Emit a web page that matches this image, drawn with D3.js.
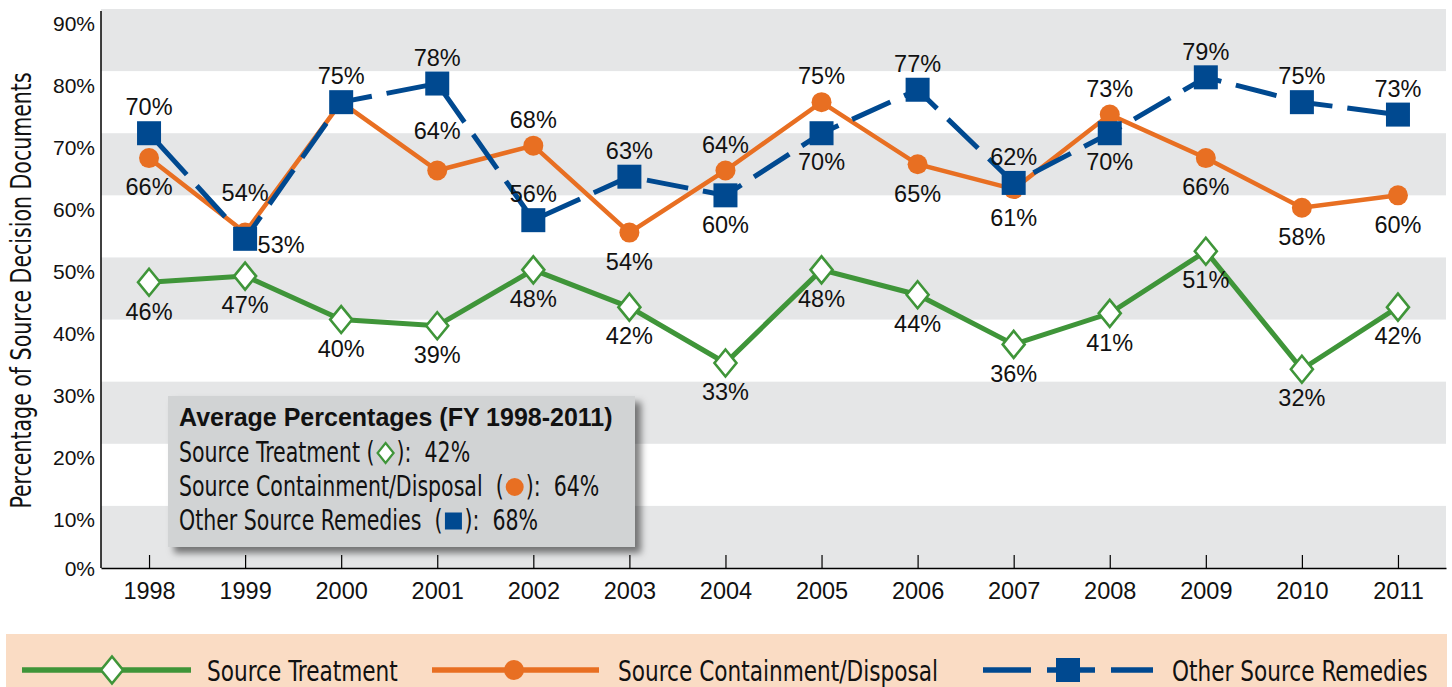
<!DOCTYPE html>
<html>
<head>
<meta charset="utf-8">
<script src="https://cdn.jsdelivr.net/npm/d3@7"></script>
<style>
  body { margin: 0; background: #fff; }
  svg text { fill: #111; }
  .narrow { font-family: "DejaVu Sans Condensed", "Liberation Sans Narrow", sans-serif; white-space: pre; }
  .num { font-family: "Liberation Sans", Arial, sans-serif; }
</style>
</head>
<body>
<div id="chart"></div>
<script>
// data
const years = ["1998", "1999", "2000", "2001", "2002", "2003", "2004", "2005", "2006", "2007", "2008", "2009", "2010", "2011"];
const treatment = [46, 47, 40, 39, 48, 42, 33, 48, 44, 36, 41, 51, 32, 42];
const containment = [66, 54, 75, 64, 68, 54, 64, 75, 65, 61, 73, 66, 58, 60];
const otherRemedies = [70, 53, 75, 78, 56, 63, 60, 70, 77, 62, 70, 79, 75, 73];
// where each value label sits: a = above, A = higher above, b = below, r = right, "" = none
const treatmentLabelPos = ["b", "b", "b", "b", "b", "b", "b", "b", "b", "b", "b", "b", "b", "b"];
const containmentLabelPos = ["b", "A", "", "A", "a", "b", "a", "a", "b", "b", "a", "b", "b", "b"];
const otherLabelPos = ["a", "r", "a", "a", "a", "a", "b", "b", "a", "a", "b", "a", "a", "a"];
const yTicks = [0, 10, 20, 30, 40, 50, 60, 70, 80, 90];
const seriesNames = ["Source Treatment", "Source Containment/Disposal", "Other Source Remedies"];
const averages = [42, 64, 68];
const avgTitle = "Average Percentages (FY 1998-2011)";
const yTitle = "Percentage of Source Decision Documents";

const w = 1452, h = 687;
const plotLeft = 101, plotRight = 1446, plotTop = 9, plotBottom = 568;
const green = "#3f9539", orange = "#e86f22", blue = "#004990";
const squeeze = 0.83;
const labelShift = { a: -26, A: -40, b: 29, r: 6 };

const svg = d3.select("#chart").append("svg")
    .attr("width", w)
    .attr("height", h);

const defs = svg.append("defs");
const shadow = defs.append("filter").attr("id", "shadow")
    .attr("x", "-5%").attr("y", "-10%").attr("width", "115%").attr("height", "130%");
shadow.append("feDropShadow")
    .attr("dx", 6).attr("dy", 6).attr("stdDeviation", 3.5)
    .attr("flood-color", "#000").attr("flood-opacity", 0.5);

// condensed text: a condensed face squeezed a little more
function narrowText(parent, str, tx, ty, size, rotate) {
    return parent.append("text")
        .attr("class", "narrow")
        .attr("transform", "translate(" + tx + "," + ty + ")" + (rotate ? " rotate(" + rotate + ")" : "") + " scale(" + squeeze + ",1)")
        .style("font-size", size + "px")
        .text(str);
}

const x = d3.scalePoint()
    .domain(years)
    .range([plotLeft, plotRight])
    .padding(0.5);

const y = d3.scaleLinear()
    .domain([0, 90])
    .range([plotBottom, plotTop]);

// grey bands
svg.append("g").selectAll("rect")
    .data(yTicks.filter(t => t % 20 === 0 && t < 90))
    .enter()
    .append("rect")
    .attr("x", plotLeft)
    .attr("width", plotRight - plotLeft)
    .attr("y", d => y(d + 10))
    .attr("height", d => y(d) - y(d + 10))
    .attr("fill", "#e5e6e7");

// y axis
const yAxis = d3.axisLeft(y)
    .tickValues(yTicks)
    .tickFormat(d => d + "%")
    .tickSize(0)
    .tickPadding(6);

svg.append("g")
    .attr("transform", "translate(" + plotLeft + ",0)")
    .call(yAxis)
    .call(g => g.select(".domain").remove())
    .call(g => g.selectAll("text")
        .attr("class", "num")
        .style("font-size", "21px")
        .attr("fill", "#111")
        .attr("dy", d => d === 0 ? 7 : 21));

svg.append("line")
    .attr("x1", plotLeft).attr("x2", plotLeft)
    .attr("y1", plotTop + 2).attr("y2", plotBottom)
    .attr("stroke", "#000").attr("stroke-width", 1.5);

// x axis
const xAxis = d3.axisBottom(x)
    .tickSizeInner(-13)
    .tickSizeOuter(0)
    .tickPadding(14);

svg.append("g")
    .attr("transform", "translate(0," + plotBottom + ")")
    .call(xAxis)
    .call(g => g.select(".domain").attr("stroke", "#000").attr("stroke-width", 1.5))
    .call(g => g.selectAll(".tick line").attr("stroke", "#000").attr("stroke-width", 1.2))
    .call(g => g.selectAll("text")
        .attr("class", "num")
        .style("font-size", "23.5px")
        .attr("fill", "#111"));

// y title
narrowText(svg, yTitle, 31, (plotTop + plotBottom) / 2 + 2, 27.5, -90)
    .attr("text-anchor", "middle");

// average box
const box = svg.append("g");
box.append("rect")
    .attr("x", 168).attr("y", 396)
    .attr("width", 467).attr("height", 151)
    .attr("fill", "#d1d3d4")
    .attr("filter", "url(#shadow)");

box.append("text")
    .attr("x", 179).attr("y", 426)
    .attr("font-family", "Liberation Sans, Arial, sans-serif")
    .attr("font-weight", "bold")
    .style("font-size", "25px")
    .text(avgTitle);

const boxLines = [
    { pre: seriesNames[0] + " (", icon: "diamond", avg: averages[0], base: 462 },
    { pre: seriesNames[1] + "  (", icon: "circle", avg: averages[1], base: 496 },
    { pre: seriesNames[2] + "  (", icon: "square", avg: averages[2], base: 530 }
];

const diamondPath = (hw, hh) => "M0," + (-hh) + "L" + hw + ",0L0," + hh + "L" + (-hw) + ",0Z";

function drawIcon(g, type, cx, cy, big) {
    if (type === "diamond") {
        g.append("path")
            .attr("d", big ? diamondPath(11, 13.5) : diamondPath(8, 10))
            .attr("transform", "translate(" + cx + "," + cy + ")")
            .attr("fill", "#fff")
            .attr("stroke", green)
            .attr("stroke-width", big ? 2.6 : 2.2);
    } else if (type === "circle") {
        g.append("circle")
            .attr("cx", cx).attr("cy", cy)
            .attr("r", big ? 10 : 9)
            .attr("fill", orange);
    } else {
        const s = big ? 24 : 17;
        g.append("rect")
            .attr("x", cx - s / 2).attr("y", cy - s / 2)
            .attr("width", s).attr("height", s)
            .attr("fill", blue);
    }
}

boxLines.forEach(l => {
    const t = narrowText(box, l.pre, 179, l.base, 27.5);
    const tw = t.node().getComputedTextLength() * squeeze;
    const cx = 179 + tw + 11;
    drawIcon(box, l.icon, cx, l.base - 9, false);
    narrowText(box, "):  " + l.avg + "%", cx + 11, l.base, 27.5);
});

// series
const line = d3.line()
    .x((d, i) => x(years[i]))
    .y(d => y(d));

const series = [
    { values: treatment, pos: treatmentLabelPos, color: green, width: 5, dash: null, icon: "diamond" },
    { values: containment, pos: containmentLabelPos, color: orange, width: 4.5, dash: null, icon: "circle" },
    { values: otherRemedies, pos: otherLabelPos, color: blue, width: 5, dash: "42,15", icon: "square" }
];

series.forEach(s => {
    const g = svg.append("g");
    g.append("path")
        .datum(s.values)
        .attr("d", line)
        .attr("fill", "none")
        .attr("stroke", s.color)
        .attr("stroke-width", s.width)
        .attr("stroke-dasharray", s.dash)
        .attr("stroke-dashoffset", s.dash ? -14 : null);
    s.values.forEach((v, i) => drawIcon(g, s.icon, x(years[i]), y(v), true));
});

// value labels
series.forEach(s => {
    svg.append("g").selectAll("text")
        .data(s.values.map((v, i) => ({ v: v, year: years[i], pos: s.pos[i] })).filter(d => d.pos))
        .enter()
        .append("text")
        .attr("class", "num")
        .style("font-size", "23.5px")
        .attr("text-anchor", "middle")
        .attr("x", d => x(d.year) + (d.pos === "r" ? 36 : 0))
        .attr("y", d => y(d.v) + labelShift[d.pos])
        .attr("dy", "0.35em")
        .text(d => d.v + "%");
});

// bottom legend
const legend = svg.append("g");
legend.append("rect")
    .attr("x", 6).attr("y", 634)
    .attr("width", 1441).attr("height", 60)
    .attr("fill", "#fadcc4");

const legendItems = [
    { x1: 22, x2: 191, mid: 112, tx: 207, color: green, dash: null, icon: "diamond" },
    { x1: 432, x2: 599, mid: 514, tx: 618, color: orange, dash: null, icon: "circle" },
    { x1: 983, x2: 1153, mid: 1068, tx: 1172, color: blue, dash: "48,16", icon: "square" }
];

legendItems.forEach((it, i) => {
    legend.append("line")
        .attr("x1", it.x1).attr("x2", it.x2)
        .attr("y1", 670).attr("y2", 670)
        .attr("stroke", it.color)
        .attr("stroke-width", 5.5)
        .attr("stroke-dasharray", it.dash);
    drawIcon(legend, it.icon, it.mid, 670, true);
    narrowText(legend, seriesNames[i], it.tx, 681, 29);
});
</script>
</body>
</html>
